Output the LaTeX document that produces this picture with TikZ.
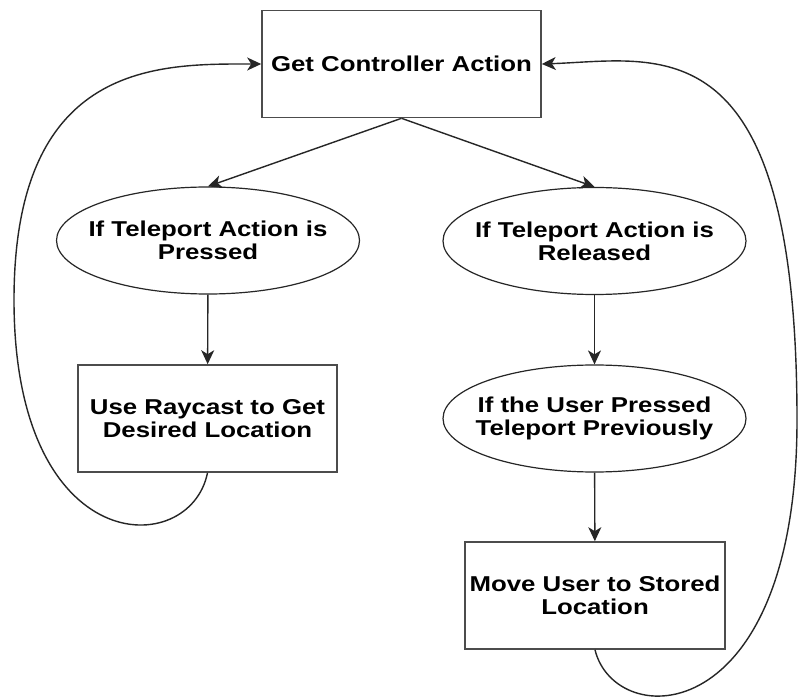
\documentclass[tikz,border=0pt]{standalone}
\usepackage{fontspec}
\setmainfont[FakeStretch=1.2]{Liberation Sans}
\usetikzlibrary{shapes.geometric,arrows.meta}

\begin{document}
\begin{tikzpicture}[x=1pt, y=-1pt,
    txt/.style={align=center, inner sep=0pt, font=\fontsize{21.5}{23}\selectfont\bfseries},
    box/.style={txt, rectangle, draw=black!70, line width=1.6pt, minimum height=107pt},
    oval/.style={txt, ellipse, draw=black!85, line width=1.2pt, inner xsep=-25pt, minimum width=303pt, minimum height=107pt},
    flow/.style={draw=black!85, line width=1.4pt, -{Stealth[length=14pt, width=13pt, inset=4pt]}}]
    \fill[white] (0,0) rectangle (801,700);
    \useasboundingbox (0,0) rectangle (801,700);

    % main step and the two checks
    \node[box, minimum width=279pt] (act) at (401.5,64) {Get Controller Action};
    \node[oval] (press) at (208,240.5) {If Teleport Action is\\Pressed};
    \node[oval] (rel) at (594.5,241) {If Teleport Action is\\Released};

    % left branch
    \node[box, minimum width=259pt] (ray) at (207.5,418.5) {Use Raycast to Get\\Desired Location};

    % right branch
    \node[oval] (prev) at (594.5,418.5) {If the User Pressed\\Teleport Previously};
    \node[box, minimum width=260pt] (move) at (595,595.5) {Move User to Stored\\Location};

    \draw[flow] (act.south) -- (press.north);
    \draw[flow] (act.south) -- (rel.north);
    \draw[flow] (press) -- (ray);
    \draw[flow] (rel) -- (prev);
    \draw[flow] (prev) -- (move);

    % loops back to the top
    \coordinate (lside) at (14,300);
    \coordinate (rside) at (797,420);
    \draw[flow] (ray.south) .. controls (190,560) and (14,560) .. (lside)
        .. controls (14,60) and (160,64) .. (act.west);
    \draw[flow] (move.south) .. controls (615,732) and (797,732) .. (rside)
        .. controls (797,20) and (660,60) .. (act.east);
\end{tikzpicture}
\end{document}
